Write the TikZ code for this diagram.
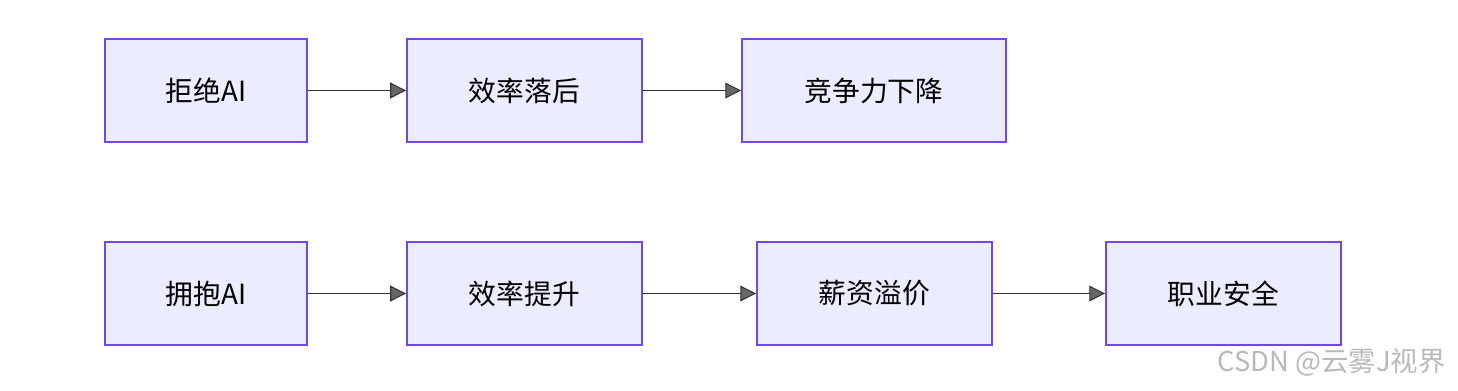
\documentclass[tikz,border=0pt]{standalone}
\usepackage{fontspec}
\setmainfont{Noto Sans CJK SC}
\usetikzlibrary{arrows.meta}
\definecolor{boxfill}{HTML}{ECECFF}
\definecolor{boxline}{HTML}{7048E8}
\definecolor{linkcol}{HTML}{333333}
\tikzset{
  stage/.style={draw=boxline,fill=boxfill,line width=1.1pt,minimum height=2.06cm,inner sep=0pt,font=\fontsize{15.8}{18}\selectfont},
  link/.style={draw=linkcol,line width=1.1pt,-{Triangle[length=9pt,width=9pt,fill=gray!80!black,line width=0.6pt]}}
}
\begin{document}
\begin{tikzpicture}[x=0.02cm,y=-0.02cm]
  \useasboundingbox (0,0) rectangle (1458,390);
  % upper row
  \node[stage,minimum width=4.04cm] (refuse) at (206,90.5) {拒绝AI};
  \node[stage,minimum width=4.7cm] (slow) at (524.5,90.5) {效率落后};
  \node[stage,minimum width=5.28cm] (decline) at (874,90.5) {竞争力下降};
  % lower row
  \node[stage,minimum width=4.04cm] (embrace) at (206,293.5) {拥抱AI};
  \node[stage,minimum width=4.7cm] (fast) at (524.5,293.5) {效率提升};
  \node[stage,minimum width=4.7cm] (salary) at (874.5,293.5) {薪资溢价};
  \node[stage,minimum width=4.7cm] (safe) at (1223.5,293.5) {职业安全};
  \draw[link] (refuse) -- (slow);
  \draw[link] (slow) -- (decline);
  \draw[link] (embrace) -- (fast);
  \draw[link] (fast) -- (salary);
  \draw[link] (salary) -- (safe);
  \node[text=gray!55,font=\fontsize{15.6}{18}\selectfont,anchor=east] (mark) at (1452,362) {CSDN @云雾J视界};
\end{tikzpicture}
\end{document}
